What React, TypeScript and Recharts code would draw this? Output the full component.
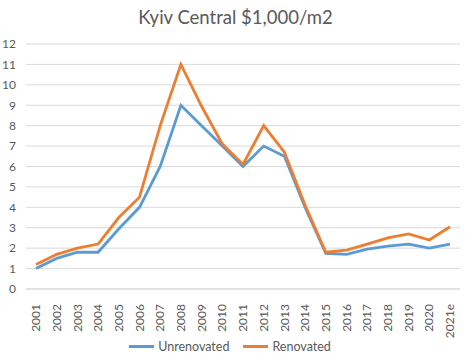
import { CartesianGrid, Legend, Line, LineChart, XAxis, YAxis } from "recharts";

const years = [
	"2001", "2002", "2003", "2004", "2005", "2006", "2007", "2008", "2009", "2010", "2011",
	"2012", "2013", "2014", "2015", "2016", "2017", "2018", "2019", "2020", "2021e",
];
const unrenovated = [1.0, 1.5, 1.8, 1.8, 2.95, 4.0, 6.0, 9.0, 8.0, 7.0, 6.0, 7.0, 6.5, 4.0, 1.75, 1.7, 1.95, 2.1, 2.2, 2.0, 2.2];
const renovated = [1.2, 1.7, 2.0, 2.2, 3.5, 4.5, 8.0, 11.0, 8.95, 7.1, 6.1, 8.0, 6.7, 4.1, 1.8, 1.9, 2.2, 2.5, 2.7, 2.4, 3.05];
const yTicks = [0, 1, 2, 3, 4, 5, 6, 7, 8, 9, 10, 11, 12];

const data = years.map((year, i) => ({
	year,
	Unrenovated: unrenovated[i],
	Renovated: renovated[i],
}));

const series = [
	{ key: "Unrenovated", color: "#5b9bd5" },
	{ key: "Renovated", color: "#ed7d31" },
];

const FONT = "Lato, 'Open Sans', sans-serif";
const TEXT = "#595959";

function YearTick({ x, y, payload }: any) {
	return (
		<text
			x={x}
			y={y + 7}
			transform={`rotate(-90, ${x}, ${y + 7})`}
			textAnchor="end"
			dy="0.35em"
			fill={TEXT}
			fontSize={12}
			fontFamily={FONT}
		>
			{payload.value}
		</text>
	);
}

function LegendRow() {
	return (
		<div style={{ display: "flex", justifyContent: "center", gap: 14, fontFamily: FONT, fontSize: 12.5, color: TEXT }}>
			{series.map((s) => (
				<div key={s.key} style={{ display: "flex", alignItems: "center", gap: 4 }}>
					<span style={{ display: "inline-block", width: 25, height: 3, background: s.color }} />
					<span>{s.key}</span>
				</div>
			))}
		</div>
	);
}

/** Kyiv central price per m2 line chart. */
export default function App() {
	return (
		<div style={{ position: "absolute", left: 0, top: 0, width: 471, height: 361, background: "#fff" }}>
			<div
				style={{
					position: "absolute",
					top: 6,
					left: 0,
					width: 471,
					textAlign: "center",
					fontFamily: FONT,
					fontSize: 18.5,
					color: TEXT,
				}}
			>
				Kyiv Central $1,000/m2
			</div>
			<LineChart width={471} height={361} data={data} margin={{ top: 44, right: 11, left: 0, bottom: 0 }}>
				<CartesianGrid stroke="#d9d9d9" vertical={false} />
				<XAxis
					dataKey="year"
					interval={0}
					height={50}
					padding={{ left: 10, right: 10 }}
					tickLine={false}
					axisLine={{ stroke: "#d9d9d9" }}
					tick={<YearTick />}
				/>
				<YAxis
					width={26}
					domain={[0, 12]}
					ticks={yTicks}
					interval={0}
					tickLine={false}
					axisLine={false}
					tickMargin={4}
					tick={{ fill: TEXT, fontSize: 12, fontFamily: FONT }}
				/>
				<Legend verticalAlign="bottom" height={22} content={<LegendRow />} />
				{series.map((s) => (
					<Line
						key={s.key}
						type="linear"
						dataKey={s.key}
						stroke={s.color}
						strokeWidth={2.8}
						dot={false}
						isAnimationActive={false}
					/>
				))}
			</LineChart>
		</div>
	);
}
